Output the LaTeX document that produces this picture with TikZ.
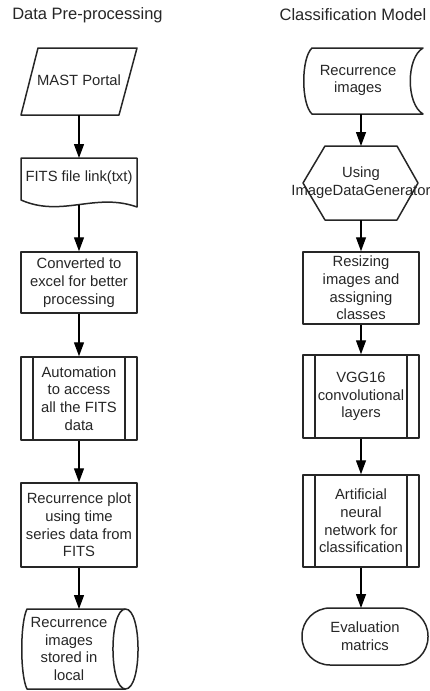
\documentclass[tikz,border=0pt]{standalone}
\usepackage{fontspec}
\setmainfont{Liberation Sans}
\usetikzlibrary{arrows.meta}
\begin{document}
\begin{tikzpicture}[x=1pt,y=-1pt,
  shp/.style={draw=black!85,line width=1.5pt,line join=round},
  txt/.style={align=center,font=\fontsize{14.8}{17.7}\selectfont,text=black!85,inner sep=0pt},
  ttl/.style={font=\fontsize{16.5}{19}\selectfont,text=black!85,inner sep=0pt},
  box/.style={shp,minimum width=116pt,inner sep=0pt,align=center,font=\fontsize{14.8}{17.7}\selectfont,text=black!85},
  subproc/.style={box,path picture={
     \draw[black!85,line width=1.5pt] ([xshift=12pt]path picture bounding box.north west) -- ([xshift=12pt]path picture bounding box.south west);
     \draw[black!85,line width=1.5pt] ([xshift=-12pt]path picture bounding box.north east) -- ([xshift=-12pt]path picture bounding box.south east);}},
  arr/.style={draw=black,line width=1.3pt,-{Triangle[length=14pt,width=10pt]}}
]
\useasboundingbox (0,0) rectangle (429,691);

% titles
\node[ttl] (t1) at (87.5,15) {Data Pre-processing};
\node[ttl] (t2) at (353,15) {Classification Model};

% ---------- left column ----------
% MAST Portal parallelogram
\draw[shp] (38,48) -- (137,48) -- (119,115) -- (21,115) -- cycle;
\node[txt] (mast) at (79,80) {MAST Portal};
\coordinate (mast-s) at (79,115);

% FITS document
\draw[shp] (21,158) -- (137,158) -- (137,207) .. controls (95,192) and (62,218) .. (21,200) -- cycle;
\node[txt] (fits) at (79,178) {FITS file link(txt)};
\coordinate (fits-n) at (79,158);
\coordinate (fits-s) at (79,205);

% Converted box
\node[box,minimum height=61pt] (conv) at (79,282.5) {Converted to\\excel for better\\processing};

% Automation subprocess
\node[subproc,minimum height=83pt] (auto) at (79,398.5) {Automation\\to access\\all the FITS\\data};

% Recurrence plot
\node[box,minimum height=84pt] (rplot) at (79,525) {Recurrence plot\\using time\\series data from\\FITS};

% Cylinder (direct access storage)
\draw[shp] (27,609) -- (125.5,609) .. controls (142.2,609) and (142.2,689) .. (125.5,689)
  -- (27,689) .. controls (20,675) and (20,623) .. (27,609) -- cycle;
\draw[shp] (125.5,609) .. controls (108.8,609) and (108.8,689) .. (125.5,689);
\node[txt] (store) at (69,649) {Recurrence\\images\\stored in\\local};
\coordinate (store-n) at (79,609);

\draw[arr] (mast-s) -- (fits-n);
\draw[arr] (fits-s) -- (conv);
\draw[arr] (conv) -- (auto);
\draw[arr] (auto) -- (rplot);
\draw[arr] (rplot) -- (store-n);

% ---------- right column ----------
% Stored data shape
\draw[shp] (312,48) -- (423,48) .. controls (406,58) and (406,104) .. (423,114)
  -- (312,114) .. controls (301,104) and (301,58) .. (312,48) -- cycle;
\node[txt] (rimg) at (358,80.5) {Recurrence\\images};
\coordinate (rimg-s) at (361,114);

% Hexagon
\draw[shp] (325,146) -- (397,146) -- (418,183) -- (397,220) -- (325,220) -- (303,183) -- cycle;
\node[txt] (idg) at (361,182.5) {Using\\ImageDataGenerator};
\coordinate (idg-n) at (361,146);
\coordinate (idg-s) at (361,220);

% Resizing
\node[box,minimum height=72pt] (resize) at (361,288) {Resizing\\images and\\assigning\\classes};

% VGG16
\node[subproc,minimum height=83pt] (vgg) at (361,396.5) {VGG16\\convolutional\\layers};

% ANN
\node[subproc,minimum height=92pt] (ann) at (361,521) {Artificial\\neural\\network for\\classification};

% Terminal
\node[shp,rounded corners=28pt,minimum width=126pt,minimum height=57pt,inner sep=0pt,align=center,font=\fontsize{14.8}{17.7}\selectfont,text=black!85] (eval) at (365,636.5) {Evaluation\\matrics};
\coordinate (eval-n) at (361,608);

\draw[arr] (rimg-s) -- (idg-n);
\draw[arr] (idg-s) -- (resize);
\draw[arr] (resize) -- (vgg);
\draw[arr] (vgg) -- (ann);
\draw[arr] (ann.south -| eval-n) -- (eval-n);
\end{tikzpicture}
\end{document}
